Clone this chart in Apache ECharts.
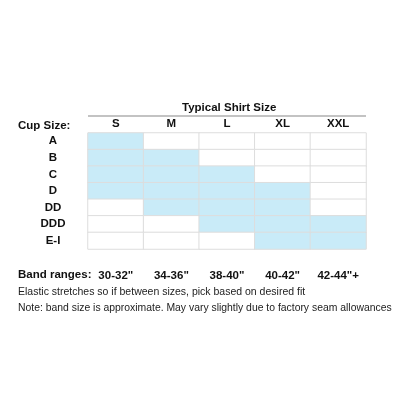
<!DOCTYPE html>
<html>
<head>
<meta charset="utf-8">
<script src="https://cdn.jsdelivr.net/npm/echarts@6/dist/echarts.min.js"></script>
<style>html,body{margin:0;padding:0;background:#fff}#chart{width:416px;height:416px}</style>
</head>
<body>
<div id="chart"></div>
<script>
// 衬衫尺码 / 罩杯对照表
const shirtSizes = ['S', 'M', 'L', 'XL', 'XXL'];
const cupSizes = ['A', 'B', 'C', 'D', 'DD', 'DDD', 'E-I'];
const bandRanges = ['30-32"', '34-36"', '38-40"', '40-42"', '42-44"+'];
// 1 = fits, one row per cup size
const fitMatrix = [
    [1, 0, 0, 0, 0],
    [1, 1, 0, 0, 0],
    [1, 1, 1, 0, 0],
    [1, 1, 1, 1, 0],
    [0, 1, 1, 1, 0],
    [0, 0, 1, 1, 1],
    [0, 0, 0, 1, 1]
];

const font = '"Liberation Sans", Arial, sans-serif';
let cells = [];
fitMatrix.forEach((row, r) => row.forEach((v, c) => cells.push([c, r, v])));

let myChart = echarts.init(document.getElementById('chart'));
let option = {
    animation: false,
    grid: { left: 88, right: 50, top: 133, bottom: 167 },
    xAxis: [{
        type: 'category', data: shirtSizes, position: 'top',
        axisLine: { show: false }, axisTick: { show: false },
        axisLabel: { fontFamily: font, fontWeight: 'bold', fontSize: 11.5, color: '#111', margin: 3 }
    }, {
        type: 'category', data: bandRanges, position: 'bottom',
        axisLine: { show: false }, axisTick: { show: false },
        axisLabel: { fontFamily: font, fontWeight: 'bold', fontSize: 11.5, color: '#111', margin: 21 }
    }],
    yAxis: {
        type: 'category', data: cupSizes, inverse: true,
        axisLine: { show: false }, axisTick: { show: false },
        axisLabel: { fontFamily: font, fontWeight: 'bold', fontSize: 11.5, color: '#111',
            margin: 0, width: 70, align: 'center', padding: [0, 0, 0, -70] }
    },
    visualMap: {
        show: false, type: 'piecewise', dimension: 2,
        pieces: [{ value: 0, color: '#ffffff' }, { value: 1, color: '#c9ebf8' }]
    },
    graphic: [
        { type: 'text', left: 182, top: 102, style: { text: 'Typical Shirt Size', font: 'bold 11.5px ' + font, fill: '#111' } },
        { type: 'line', shape: { x1: 88, y1: 116, x2: 366, y2: 116 }, style: { stroke: '#888', lineWidth: 1.2 } },
        { type: 'text', left: 18, top: 120, style: { text: 'Cup Size:', font: 'bold 11.5px ' + font, fill: '#111' } },
        { type: 'text', left: 18, top: 269, style: { text: 'Band ranges:', font: 'bold 11.5px ' + font, fill: '#111' } },
        { type: 'text', left: 18, top: 287, style: { text: 'Elastic stretches so if between sizes, pick based on desired fit', font: '10.5px ' + font, fill: '#222' } },
        { type: 'text', left: 18, top: 303, style: { text: 'Note: band size is approximate. May vary slightly due to factory seam allowances', font: '10.4px ' + font, fill: '#222' } }
    ],
    series: [{
        type: 'heatmap', data: cells,
        itemStyle: { borderColor: '#dddddd', borderWidth: 1 }
    }]
};
myChart.setOption(option);
</script>
</body>
</html>
